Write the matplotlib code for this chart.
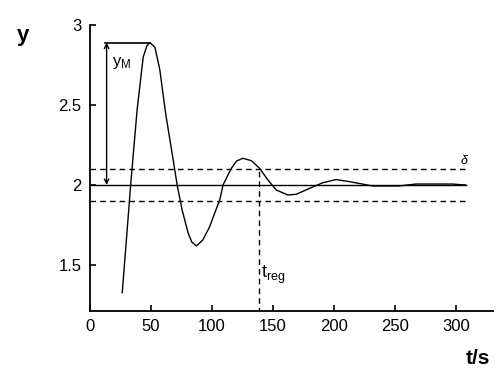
import matplotlib
matplotlib.use("Agg")
import matplotlib.pyplot as plt

plt.rcParams['font.family'] = ['Liberation Sans', 'DejaVu Sans']
plt.rcParams['mathtext.fontset'] = 'custom'
plt.rcParams['mathtext.rm'] = 'Liberation Sans'
plt.rcParams['mathtext.it'] = 'Liberation Sans:italic'

# step response
t = [26.4, 29.8, 33.3, 38.6, 43.6, 46.6, 49.1, 53.2, 57.2, 62.1, 68.1, 71.4,
     75.6, 80.4, 83.4, 87.2, 92.4, 98.1, 102.2, 106.3, 109.0, 115.8, 120.2,
     125.3, 132.2, 139.0, 145.8, 152.6, 162.1, 169.0, 179.9, 190.7, 201.7,
     212.5, 223.2, 231.3, 253.4, 267.1, 296.7, 307.9]
y = [1.327, 1.656, 2.0, 2.47, 2.80, 2.87, 2.89, 2.86, 2.72, 2.44, 2.16, 2.0,
     1.84, 1.70, 1.644, 1.619, 1.656, 1.74, 1.825, 1.906, 2.0, 2.104, 2.15,
     2.167, 2.152, 2.104, 2.031, 1.969, 1.9375, 1.942, 1.979, 2.014, 2.034,
     2.021, 2.006, 1.994, 1.994, 2.006, 2.006, 2.0]

y_final = 2.0
delta = 0.1
y_max = 2.89
t_peak = 49.1
t_reg = 138.5
t_end = 308

fig = plt.figure(figsize=(5.04, 3.77), dpi=100)
ax = fig.add_axes([0.1786, 0.175, 0.799, 0.7588])

ax.plot(t, y, color='black', lw=1.0)
ax.plot([0, t_end], [y_final, y_final], color='black', lw=1.0)
ax.plot([0, t_end], [y_final + delta] * 2, color='black', lw=1.0, ls=(0, (4, 3)))
ax.plot([0, t_end], [y_final - delta] * 2, color='black', lw=1.0, ls=(0, (4, 3)))
ax.plot([t_reg, t_reg], [1.2, y_final + delta], color='black', lw=1.0, ls=(0, (4, 3)))
ax.plot([12.3, t_peak], [y_max, y_max], color='black', lw=1.2)
ax.annotate('', xy=(13.6, y_max), xytext=(13.6, y_final),
            arrowprops=dict(arrowstyle='<->', color='black', lw=1.0,
                            shrinkA=0, shrinkB=0, mutation_scale=8))

ax.text(18, 2.76, r'$\mathrm{y_M}$', fontsize=12, va='center')
ax.text(140.5, 1.44, r'$\mathrm{t_{reg}}$', fontsize=13, va='center')
ax.text(303, 2.15, r'$\delta$', fontsize=9, va='center')

ax.set_xlim(0, 330)
ax.set_ylim(1.2125, 3.0)
ax.set_xticks([0, 50, 100, 150, 200, 250, 300])
ax.set_yticks([1.5, 2, 2.5, 3])
ax.set_yticklabels(['1.5', '2', '2.5', '3'])
ax.tick_params(direction='in', length=4, width=1.2, labelsize=12, pad=6)
ax.spines['top'].set_visible(False)
ax.spines['right'].set_visible(False)
ax.spines['left'].set_linewidth(1.3)
ax.spines['bottom'].set_linewidth(1.3)

fig.text(23 / 504, 1 - 36 / 377, 'y', fontsize=16, fontweight='bold', ha='center', va='center')
fig.text(478 / 504, 1 - 358 / 377, 't/s', fontsize=15, fontweight='bold', ha='center', va='center')

fig.savefig('out.png', dpi=100)
